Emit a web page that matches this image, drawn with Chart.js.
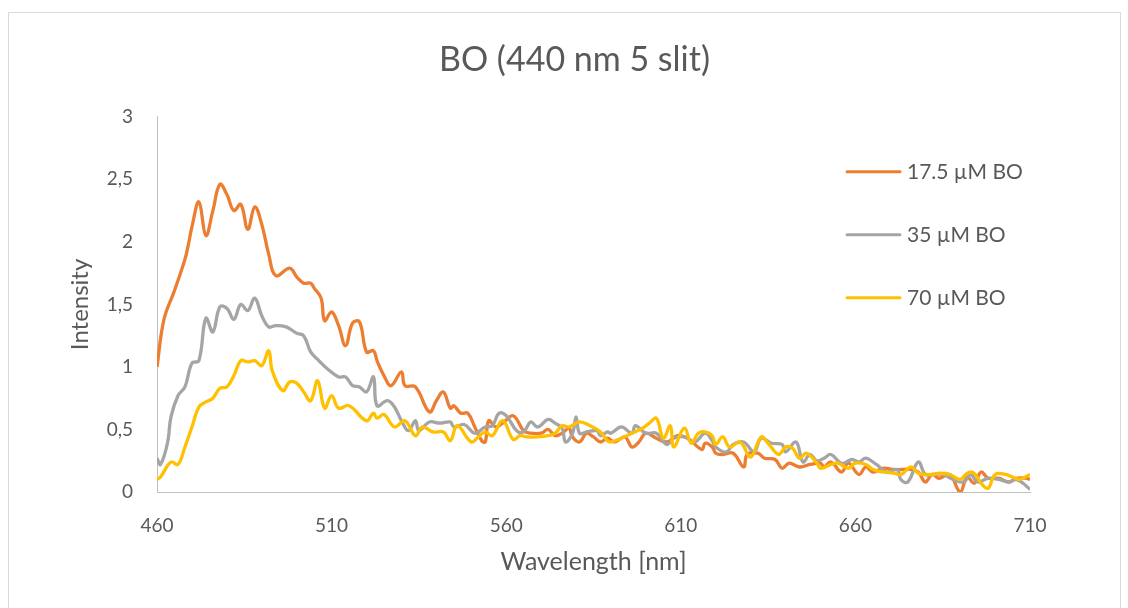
<!DOCTYPE html>
<html>
<head>
<meta charset="utf-8">
<script src="https://cdn.jsdelivr.net/npm/chart.js@4.4.1/dist/chart.umd.min.js"></script>
<style>
html, body { margin: 0; padding: 0; background: #fff; }
#box { position: absolute; left: 8px; top: 12px; width: 1111px; height: 596px; border: 1px solid #d9d9d9; }
</style>
</head>
<body>
<div id="box"><canvas id="chart"></canvas></div>
<script>
// Datos (longitud de onda en nm, intensidad)
const chartTitle = 'BO (440 nm 5 slit)';
const seriesLabels = ['17.5 µM BO', '35 µM BO', '70 µM BO'];
const seriesColors = ['#ED7D31', '#A5A5A5', '#FFC000'];
const yTicks = [0, 0.5, 1, 1.5, 2, 2.5, 3];
const xTicks = [460, 510, 560, 610, 660, 710];

const nm175 = [460,462,465,468,469,470,472,474,476,478,480,482,484,486,488,490,492,494,498,500,
  502,504,505,507,508,510,512,514,516,518,520,522,523,525,527,530,531,534,538,540,
  542,544,545,547,549,551,553,554,555,557,559,562,565,567,570,572,574,576,578,579,
  581,583,585,587,589,591,594,596,598,600,603,606,609,612,616,617,619,620,622,625,
  628,629,632,634,637,639,641,644,647,650,651,653,656,658,661,663,665,668,671,673,
  676,678,680,682,684,687,690,692,694,696,698,701,704,706,709,710];
const int175 = [1.00,1.38,1.61,1.86,1.98,2.12,2.32,2.05,2.25,2.46,2.38,2.25,2.30,2.10,2.28,2.14,1.90,1.73,1.79,1.72,
  1.67,1.67,1.63,1.55,1.37,1.44,1.33,1.17,1.35,1.36,1.12,1.13,1.05,0.93,0.85,0.96,0.85,0.84,0.64,0.73,
  0.80,0.67,0.69,0.63,0.63,0.52,0.41,0.40,0.57,0.52,0.55,0.61,0.49,0.47,0.47,0.50,0.45,0.47,0.51,0.44,
  0.40,0.47,0.44,0.40,0.43,0.40,0.44,0.36,0.40,0.47,0.43,0.40,0.45,0.43,0.34,0.39,0.36,0.31,0.30,0.31,
  0.20,0.30,0.31,0.27,0.26,0.19,0.23,0.20,0.22,0.23,0.20,0.24,0.16,0.23,0.14,0.20,0.16,0.19,0.18,0.18,
  0.18,0.16,0.08,0.14,0.11,0.14,0.00,0.12,0.07,0.16,0.11,0.11,0.08,0.11,0.11,0.10];

const nm35 = [460,461,463,464,466,468,470,472,474,476,478,480,482,484,486,488,490,492,494,497,
  500,502,504,506,509,512,514,516,518,520,522,523,526,528,530,532,534,535,538,541,
  544,545,548,551,554,556,558,560,563,565,567,569,572,574,576,577,579,580,581,583,
  586,587,589,590,593,596,597,600,603,606,608,611,614,617,619,620,623,625,628,631,
  633,636,639,640,643,645,647,649,651,653,656,659,661,663,666,669,672,673,675,678,
  680,682,685,688,691,693,695,698,701,704,706,708,710];
const int35 = [0.27,0.22,0.39,0.60,0.77,0.84,1.03,1.05,1.39,1.28,1.48,1.47,1.38,1.50,1.45,1.55,1.41,1.32,1.33,1.32,
  1.27,1.25,1.12,1.06,0.98,0.92,0.92,0.85,0.84,0.80,0.92,0.69,0.73,0.68,0.57,0.49,0.57,0.49,0.56,0.55,
  0.56,0.52,0.54,0.47,0.52,0.53,0.63,0.61,0.49,0.48,0.56,0.52,0.58,0.55,0.51,0.40,0.47,0.60,0.47,0.48,
  0.49,0.45,0.48,0.47,0.52,0.47,0.53,0.47,0.47,0.38,0.43,0.44,0.40,0.47,0.41,0.36,0.32,0.38,0.40,0.32,
  0.43,0.39,0.38,0.32,0.40,0.24,0.30,0.25,0.27,0.30,0.23,0.26,0.24,0.27,0.22,0.16,0.18,0.10,0.08,0.24,
  0.14,0.14,0.14,0.10,0.08,0.14,0.08,0.11,0.10,0.08,0.10,0.07,0.02];

const nm70 = [460,461,464,466,468,470,472,474,476,478,480,482,484,486,488,490,492,493,496,498,
  500,502,504,506,508,510,512,515,520,522,523,525,528,531,534,536,539,542,544,546,
  550,552,554,556,559,562,564,566,569,572,574,576,578,581,584,587,589,590,593,596,
  599,601,603,605,607,608,611,613,615,617,619,620,622,624,627,630,633,635,638,640,
  642,644,646,649,650,653,655,658,660,663,665,668,671,673,676,678,680,682,684,687,
  690,692,694,696,698,700,703,705,707,710];
const int70 = [0.10,0.12,0.24,0.22,0.36,0.52,0.68,0.72,0.75,0.83,0.84,0.93,1.05,1.04,1.05,1.01,1.13,0.97,0.81,0.88,
  0.87,0.80,0.73,0.89,0.67,0.77,0.67,0.69,0.57,0.63,0.59,0.62,0.52,0.57,0.45,0.52,0.48,0.48,0.41,0.53,
  0.40,0.44,0.48,0.45,0.57,0.42,0.45,0.44,0.44,0.45,0.47,0.53,0.52,0.56,0.53,0.48,0.41,0.40,0.43,0.47,
  0.51,0.55,0.59,0.43,0.53,0.36,0.51,0.39,0.47,0.48,0.45,0.38,0.44,0.36,0.40,0.28,0.44,0.39,0.30,0.36,
  0.35,0.27,0.31,0.23,0.19,0.22,0.23,0.19,0.23,0.22,0.18,0.16,0.15,0.14,0.20,0.15,0.14,0.14,0.15,0.14,
  0.10,0.15,0.15,0.07,0.03,0.14,0.14,0.12,0.10,0.14];

const FONT = 'Lato';
const TEXT = '#595959';

function toPoints(xs, ys) {
    return xs.map((x, i) => ({ x: x, y: ys[i] }));
}

// Leyenda dibujada encima del área del gráfico, como en Excel
const sideLegend = {
    id: 'sideLegend',
    afterDraw(chart) {
        const { ctx, chartArea } = chart;
        ctx.save();
        chart.data.datasets.forEach((ds, i) => {
            const x = chartArea.right - 183;
            const y = chartArea.top + 55 + i * 63;
            ctx.strokeStyle = ds.borderColor;
            ctx.lineWidth = 3;
            ctx.lineCap = 'round';
            ctx.beginPath();
            ctx.moveTo(x, y);
            ctx.lineTo(x + 53, y);
            ctx.stroke();
            ctx.fillStyle = TEXT;
            ctx.font = '21px ' + FONT;
            ctx.textBaseline = 'middle';
            ctx.textAlign = 'left';
            ctx.fillText(ds.label, x + 60, y);
        });
        ctx.restore();
    }
};

const series = [[nm175, int175], [nm35, int35], [nm70, int70]];

new Chart(document.getElementById('chart'), {
    type: 'line',
    data: {
        datasets: series.map((s, i) => ({
            label: seriesLabels[i],
            data: toPoints(s[0], s[1]),
            borderColor: seriesColors[i],
            backgroundColor: seriesColors[i],
            borderWidth: 3.3,
            pointRadius: 0,
            tension: 0.4,
            fill: false,
            order: series.length - 1 - i
        }))
    },
    options: {
        responsive: true,
        maintainAspectRatio: false,
        animation: false,
        layout: { padding: { left: 20, right: 0, top: 0, bottom: 0 } },
        plugins: {
            legend: { display: false },
            tooltip: { enabled: false },
            title: {
                display: true,
                text: chartTitle,
                color: TEXT,
                font: { family: FONT, size: 34, weight: 'normal' },
                padding: { top: 27, bottom: 36 }
            }
        },
        scales: {
            x: {
                type: 'linear',
                min: xTicks[0],
                max: xTicks[xTicks.length - 1],
                afterBuildTicks: s => { s.ticks = xTicks.map(v => ({ value: v })); },
                afterFit: s => { s.height = 117; },
                grid: { display: false, drawTicks: false },
                border: { display: true, color: '#bfbfbf', width: 1 },
                ticks: { color: TEXT, font: { family: FONT, size: 19 }, padding: 22, maxRotation: 0 },
                title: {
                    display: true,
                    text: 'Wavelength [nm]',
                    color: TEXT,
                    font: { family: FONT, size: 25 },
                    padding: { top: 0, bottom: 32 }
                }
            },
            y: {
                min: yTicks[0],
                max: yTicks[yTicks.length - 1],
                afterBuildTicks: s => { s.ticks = yTicks.map(v => ({ value: v })); },
                afterFit: s => { s.width = 128; },
                grid: { display: false, drawTicks: false },
                border: { display: true, color: '#bfbfbf', width: 1 },
                ticks: {
                    color: TEXT,
                    font: { family: FONT, size: 19 },
                    padding: 24,
                    callback: v => String(v).replace('.', ',')
                },
                title: {
                    display: true,
                    text: 'Intensity',
                    color: TEXT,
                    font: { family: FONT, size: 24 },
                    padding: { top: 37, bottom: 0 }
                }
            },
            // eje vacío a la derecha: sólo reserva el hueco que deja Excel
            yRight: {
                position: 'right',
                min: yTicks[0],
                max: yTicks[yTicks.length - 1],
                afterFit: s => { s.width = 90; },
                grid: { display: false, drawTicks: false },
                border: { display: false },
                ticks: { display: false }
            }
        }
    },
    plugins: [sideLegend]
});
</script>
</body>
</html>
